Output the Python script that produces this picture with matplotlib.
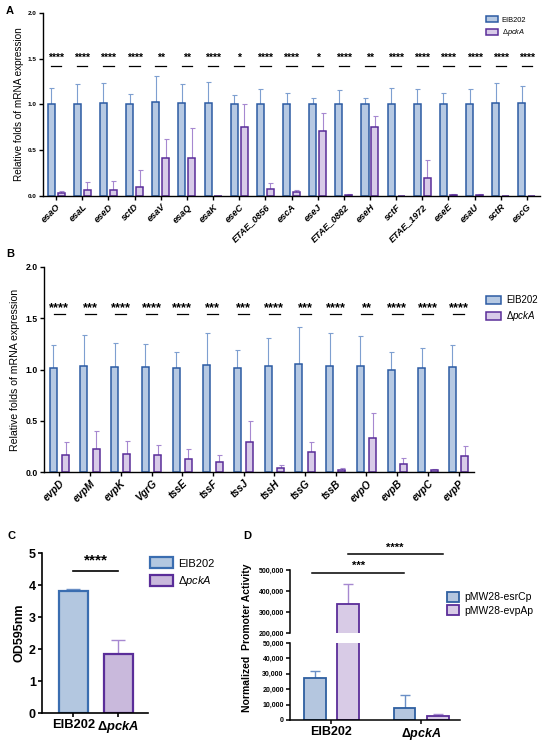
import numpy as np
import matplotlib
matplotlib.use("Agg")
import matplotlib.pyplot as plt
from matplotlib.ticker import FuncFormatter, MultipleLocator

plt.rcParams["font.family"] = ["Liberation Sans", "DejaVu Sans"]
plt.rcParams["mathtext.fontset"] = "custom"
plt.rcParams["mathtext.rm"] = "Liberation Sans"
plt.rcParams["mathtext.it"] = "Liberation Sans:italic"
plt.rcParams["mathtext.bf"] = "Liberation Sans:bold"
plt.rcParams["mathtext.bfit"] = "Liberation Sans:italic:bold"

# ---- data ----
genes_a = ["esaO", "esaL", "eseD", "sctD", "esaV", "esaQ", "esaK", "eseC", "ETAE_0856",
           "escA", "eseJ", "ETAE_0882", "eseH", "sctF", "ETAE_1972", "eseE", "esaU", "sctR", "escG"]
wt_a = [1.01, 1.01, 1.02, 1.00, 1.03, 1.02, 1.02, 1.00, 1.01, 1.00, 1.00, 1.01, 1.00, 1.01,
        1.01, 1.00, 1.01, 1.02, 1.02]
wt_a_sd = [0.17, 0.21, 0.22, 0.12, 0.28, 0.20, 0.23, 0.10, 0.16, 0.13, 0.07, 0.15, 0.07, 0.17,
           0.16, 0.13, 0.16, 0.22, 0.18]
mut_a = [0.03, 0.07, 0.07, 0.10, 0.41, 0.42, 0.005, 0.75, 0.08, 0.04, 0.71, 0.01, 0.75, 0.003,
         0.20, 0.01, 0.01, 0.003, 0.003]
mut_a_sd = [0.03, 0.08, 0.09, 0.18, 0.21, 0.32, 0.0, 0.25, 0.06, 0.03, 0.20, 0.01, 0.12, 0.0,
            0.19, 0.01, 0.01, 0.0, 0.0]
sig_a = ["****", "****", "****", "****", "**", "**", "****", "*", "****", "****", "*", "****",
         "**", "****", "****", "****", "****", "****", "****"]

genes_b = ["evpD", "evpM", "evpK", "VgrG", "tssE", "tssF", "tssJ", "tssH", "tssG", "tssB",
           "evpO", "evpB", "evpC", "evpP"]
wt_b = [1.01, 1.03, 1.02, 1.02, 1.01, 1.04, 1.01, 1.03, 1.05, 1.03, 1.03, 1.00, 1.01, 1.02]
wt_b_sd = [0.23, 0.31, 0.24, 0.23, 0.16, 0.32, 0.18, 0.28, 0.36, 0.33, 0.30, 0.17, 0.20, 0.22]
mut_b = [0.17, 0.22, 0.18, 0.17, 0.13, 0.10, 0.29, 0.04, 0.20, 0.02, 0.33, 0.08, 0.02, 0.16]
mut_b_sd = [0.12, 0.18, 0.12, 0.09, 0.09, 0.07, 0.21, 0.03, 0.09, 0.02, 0.25, 0.06, 0.01, 0.09]
sig_b = ["****", "***", "****", "****", "****", "***", "***", "****", "***", "****", "**",
         "****", "****", "****"]

od_strains = ["EIB202", "ΔpckA"]
od_mean = [3.82, 1.83]
od_sd = [0.05, 0.45]

promoter_strains = ["EIB202", "ΔpckA"]
esrc_mean = [27000, 7500]
esrc_sd = [4500, 9000]
evpa_mean = [340000, 2500]
evpa_sd = [95000, 1500]

BLUE_FILL, BLUE_EDGE, BLUE_ERR = "#b6c9e3", "#2c5ba3", "#7e9fd0"
PURP_FILL, PURP_EDGE, PURP_ERR = "#d8cbe8", "#5a2d99", "#a688d0"
MUT_LABEL = "Δ$\\mathit{pckA}$"

W, H = 550, 746
fig = plt.figure(figsize=(W / 100, H / 100), dpi=100)


def px_axes(l, t, r, b):
    return fig.add_axes([l / W, 1 - b / H, (r - l) / W, (b - t) / H])


def style_axes(ax, lw=1.0):
    for s in ("top", "right"):
        ax.spines[s].set_visible(False)
    for s in ("left", "bottom"):
        ax.spines[s].set_linewidth(lw)
    ax.tick_params(width=lw, length=3, pad=1.5)


def gene_panel(ax, genes, wt, wt_sd, mut, mut_sd, sig, off, width, tick_fs, lab_fs,
               star_y, line_y, half):
    x = np.arange(len(genes))
    zeros = np.zeros(len(genes))
    ax.errorbar(x - off, wt, yerr=[zeros, wt_sd], fmt="none", ecolor=BLUE_ERR,
                elinewidth=0.8, capsize=1.8, capthick=0.8, zorder=1)
    ax.errorbar(x + off, mut, yerr=[zeros, mut_sd], fmt="none", ecolor=PURP_ERR,
                elinewidth=0.8, capsize=1.8, capthick=0.8, zorder=1)
    ax.bar(x - off, wt, width, color=BLUE_FILL, edgecolor=BLUE_EDGE, linewidth=1.1,
           label="EIB202", zorder=2)
    ax.bar(x + off, mut, width, color=PURP_FILL, edgecolor=PURP_EDGE, linewidth=1.1,
           label=MUT_LABEL, zorder=2)
    for i, s in enumerate(sig):
        ax.plot([i - half, i + half], [line_y, line_y], color="black", lw=0.9)
        ax.text(i, star_y, s, ha="center", va="center", fontsize=tick_fs + 3,
                fontweight="bold")
    ax.set_xlim(-0.5, len(genes) - 0.5)
    ax.set_ylim(0, 2.0)
    ax.yaxis.set_major_locator(MultipleLocator(0.5))
    ax.yaxis.set_major_formatter(FuncFormatter(lambda v, p: f"{v:.1f}"))
    ax.set_xticks(x)
    ax.set_xticklabels(genes, rotation=45, ha="right", rotation_mode="anchor",
                       fontstyle="italic", fontweight="bold", fontsize=lab_fs)
    for t in ax.get_yticklabels():
        t.set_fontweight("bold")
        t.set_fontsize(tick_fs)
    style_axes(ax)


# ---- A ----
axA = px_axes(43, 13, 540, 196)
gene_panel(axA, genes_a, wt_a, wt_a_sd, mut_a, mut_a_sd, sig_a, 0.19, 0.27, 4.6, 6.7,
           1.515, 1.42, 0.2)
axA.set_ylabel("Relative folds of mRNA expression", fontsize=7.2, labelpad=3)
axA.legend(loc="upper left", bbox_to_anchor=(0.885, 1.0), fontsize=5.4, frameon=False,
           handlelength=1.6, handleheight=0.9, borderaxespad=0, labelspacing=0.5,
           handletextpad=0.5)

# ---- B ----
axB = px_axes(44, 267, 474, 472)
gene_panel(axB, genes_b, wt_b, wt_b_sd, mut_b, mut_b_sd, sig_b, 0.2, 0.23, 6.2, 7.4,
           1.6, 1.54, 0.18)
axB.set_ylabel("Relative folds of mRNA expression", fontsize=7.6, labelpad=4)
axB.legend(loc="upper left", bbox_to_anchor=(1.02, 0.88), fontsize=7, frameon=False,
           handlelength=1.5, handleheight=0.9, borderaxespad=0, labelspacing=0.4,
           handletextpad=0.5)

# ---- C ----
axC = px_axes(42, 553, 148, 713)
xc = np.arange(len(od_strains))
c_fill = ["#b3c7e0", "#c9b9dc"]
c_edge = ["#3a6db0", PURP_EDGE]
c_err = ["#6f93c8", PURP_ERR]
for i in range(len(od_strains)):
    axC.errorbar([xc[i]], [od_mean[i]], yerr=[[0], [od_sd[i]]], fmt="none", ecolor=c_err[i],
                 elinewidth=1.0, capsize=5, capthick=1.0, zorder=1)
    axC.bar([xc[i]], [od_mean[i]], 0.65, color=c_fill[i], edgecolor=c_edge[i], linewidth=1.6,
            zorder=2, label=["EIB202", MUT_LABEL][i])
axC.plot([0, 1], [4.44, 4.44], color="black", lw=1.2, clip_on=False)
axC.text(0.5, 4.78, "****", ha="center", va="center", fontsize=11, fontweight="bold")
axC.set_xlim(-0.7, 1.66)
axC.set_ylim(0, 5)
axC.set_xticks(xc)
axC.set_xticklabels(["EIB202", "Δ$\\mathbfit{pckA}$"], fontsize=9.3, fontweight="bold")
axC.set_yticks(range(6))
for t in axC.get_yticklabels():
    t.set_fontweight("bold")
    t.set_fontsize(9)
axC.set_ylabel("OD595nm", fontsize=9, fontweight="bold", labelpad=2)
style_axes(axC, 1.2)
axC.legend(loc="upper left", bbox_to_anchor=(0.98, 1.0), fontsize=8, frameon=False,
           handlelength=2.0, handleheight=1.1, borderaxespad=0, labelspacing=0.5,
           handletextpad=0.5)

# ---- D (broken axis) ----
axDu = px_axes(290, 570, 460, 633)
axDl = px_axes(290, 643, 460, 720)
xd = np.arange(len(promoter_strains))
for ax in (axDu, axDl):
    ax.errorbar(xd - 0.185, esrc_mean, yerr=[[0, 0], esrc_sd], fmt="none", ecolor="#6a8fc6",
                elinewidth=1.0, capsize=3.5, capthick=1.0, zorder=1)
    ax.errorbar(xd + 0.185, evpa_mean, yerr=[[0, 0], evpa_sd], fmt="none", ecolor=PURP_ERR,
                elinewidth=1.0, capsize=3.5, capthick=1.0, zorder=1)
    ax.bar(xd - 0.185, esrc_mean, 0.24, color="#b4c6df", edgecolor="#2e5fa0", linewidth=1.3,
           label="pMW28-esrCp", zorder=2)
    ax.bar(xd + 0.185, evpa_mean, 0.24, color="#d8cbe6", edgecolor=PURP_EDGE, linewidth=1.3,
           label="pMW28-evpAp", zorder=2)
    ax.set_xlim(-0.46, 1.43)
    style_axes(ax, 1.1)
    ax.yaxis.set_major_formatter(FuncFormatter(lambda v, p: f"{int(v):,}"))

axDu.set_ylim(200000, 500000)
axDu.set_yticks([200000, 300000, 400000, 500000])
axDu.spines["bottom"].set_visible(False)
axDu.set_xticks([])
axDl.set_ylim(0, 50000)
axDl.set_yticks(range(0, 50001, 10000))
axDl.set_xticks(xd)
axDl.set_xticklabels(["EIB202", "Δ$\\mathbfit{pckA}$"], fontsize=9, fontweight="bold")
for ax in (axDu, axDl):
    for t in ax.get_yticklabels():
        t.set_fontweight("bold")
        t.set_fontsize(5)

axDu.plot([-0.22, 0.81], [486000, 486000], color="black", lw=1.1, clip_on=False)
axDu.text(0.3, 519000, "***", ha="center", va="center", fontsize=8, fontweight="bold")
axDu.plot([0.18, 1.24], [576000, 576000], color="black", lw=1.1, clip_on=False)
axDu.text(0.71, 605000, "****", ha="center", va="center", fontsize=8, fontweight="bold")

fig.text(247 / W, 1 - 638 / H, "Normalized  Promoter Activity", rotation=90, ha="center",
         va="center", fontsize=7.5, fontweight="bold")
axDu.legend(loc="upper left", bbox_to_anchor=(0.9, 0.72), fontsize=7.5, frameon=False,
            handlelength=1.1, handleheight=1.1, borderaxespad=0, labelspacing=0.3,
            handletextpad=0.5)

# ---- panel letters ----
for letter, (px, py) in {"A": (6, 11), "B": (6, 254), "C": (8, 536), "D": (243, 536)}.items():
    fig.text(px / W, 1 - py / H, letter, fontsize=8, fontweight="bold", ha="left", va="center")

fig.savefig("out.png", dpi=100)
